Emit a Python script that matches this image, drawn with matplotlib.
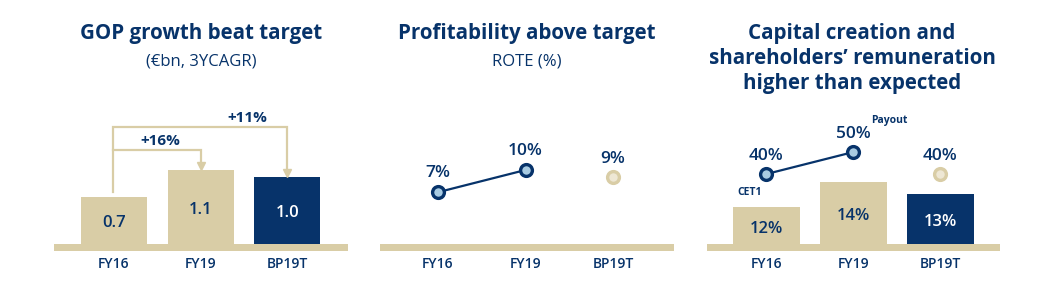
import matplotlib
matplotlib.use("Agg")
import matplotlib.pyplot as plt
import numpy as np

# ---------------- data ----------------
categories = ["FY16", "FY19", "BP19T"]
gop_values = [0.7, 1.1, 1.0]
gop_labels = ["0.7", "1.1", "1.0"]
gop_growth = ["+16%", "+11%"]
rote_values = [7, 10, 9]
rote_labels = ["7%", "10%", "9%"]
cet1_values = [12, 14, 13]
cet1_labels = ["12%", "14%", "13%"]
payout_values = [40, 50, 40]
payout_labels = ["40%", "50%", "40%"]

# ---------------- style ----------------
NAVY = "#07336A"
BEIGE = "#D9CDA6"
LBLUE = "#A8CBE2"
LBEIGE = "#EEE7D4"
FONT = ["Open Sans", "DejaVu Sans"]
plt.rcParams["font.family"] = FONT

W, H = 1043, 300
fig = plt.figure(figsize=(W / 100, H / 100), dpi=100)


def px_axes(x0, x1, ytop, ybot):
    ax = fig.add_axes([x0 / W, 1 - ybot / H, (x1 - x0) / W, (ybot - ytop) / H])
    ax.patch.set_alpha(0)
    for s in ax.spines.values():
        s.set_visible(False)
    ax.tick_params(length=0)
    ax.set_yticks([])
    return ax


def set_x(ax, x0, x1, c0, sp):
    ax.set_xlim(-(c0 - x0) / sp, (x1 - c0) / sp)


def set_y(ax, zero_val, zero_px, k, ytop=100, ybot=251):
    ax.set_ylim(zero_val - (ybot - zero_px) / k, zero_val + (zero_px - ytop) / k)


def xticks(ax):
    ax.set_xticks(range(len(categories)))
    ax.set_xticklabels(categories, color=NAVY, fontsize=10, fontweight="semibold")
    ax.tick_params(axis="x", pad=4)


def ftext(x, y, s, **kw):
    fig.text(x / W, 1 - y / H, s, ha="center", va="center", color=NAVY, **kw)


x = np.arange(len(categories))

# ---------------- panel 1 ----------------
ax1 = px_axes(54, 348, 100, 251)
set_x(ax1, 54, 348, 114, 86.7)
set_y(ax1, 0, 244, 67)
ax1.axhspan(ax1.get_ylim()[0], 0, color=BEIGE, lw=0, zorder=1)
cols = [BEIGE, BEIGE, NAVY]
tcols = [NAVY, NAVY, "white"]
ax1.bar(x, gop_values, width=0.76, color=cols, zorder=2)
for i, v in enumerate(gop_values):
    ax1.annotate(gop_labels[i], (i, v / 2), xytext=(0, -2), textcoords="offset points",
                 ha="center", va="center", color=tcols[i], fontsize=12, fontweight="semibold")
xticks(ax1)
# growth arrows
lvl_hi, lvl_lo = 1.746, 1.403
ax1.plot([-0.01, -0.01, 2.0, 2.0], [gop_values[0] + 0.08, lvl_hi, lvl_hi, gop_values[2] + 0.12],
         color=BEIGE, lw=1.6, zorder=3, solid_joinstyle="miter")
ax1.plot([-0.01, 1.0, 1.0], [lvl_lo, lvl_lo, gop_values[1] + 0.12],
         color=BEIGE, lw=1.6, zorder=3, solid_joinstyle="miter")
ax1.plot([1.0, 2.0], [gop_values[1] + 0.06, gop_values[2] + 0.06], ls="none",
         marker="v", ms=6, color=BEIGE, zorder=3)
ax1.text(0.53, 1.53, gop_growth[0], ha="center", va="center", color=NAVY,
         fontsize=11, fontweight="bold")
ax1.text(1.54, 1.88, gop_growth[1], ha="center", va="center", color=NAVY,
         fontsize=11, fontweight="bold")

ftext(201, 34, "GOP growth beat target", fontsize=14.8, fontweight="bold")
ftext(201, 62, "(€bn, 3YCAGR)", fontsize=12)

# ---------------- panel 2 ----------------
ax2 = px_axes(380, 674, 100, 251)
set_x(ax2, 380, 674, 438, 87.5)
set_y(ax2, 0, 244, 7.4)
ax2.axhspan(ax2.get_ylim()[0], 0, color=BEIGE, lw=0, zorder=1)
ax2.plot(x[:2], rote_values[:2], color=NAVY, lw=1.6, marker="o", ms=8.5, mew=2.4,
         mfc=LBLUE, mec=NAVY, zorder=3)
ax2.plot(x[2:], rote_values[2:], ls="none", marker="o", ms=8.5, mew=2.4,
         mfc=LBEIGE, mec=BEIGE, zorder=3)
for i, v in enumerate(rote_values):
    ax2.annotate(rote_labels[i], (i, v), xytext=(0, 13.5), textcoords="offset points",
                 ha="center", va="center", color=NAVY, fontsize=12.5, fontweight="semibold")
xticks(ax2)
ftext(527, 34, "Profitability above target", fontsize=14.8, fontweight="bold")
ftext(527, 62, "ROTE (%)", fontsize=12)

# ---------------- panel 3 ----------------
ax3 = px_axes(707, 1000, 100, 251)
set_x(ax3, 707, 1000, 766.5, 87.0)
base = 9
set_y(ax3, base, 244, 12.5)
ax3.axhspan(ax3.get_ylim()[0], base, color=BEIGE, lw=0, zorder=1)
ax3.bar(x, np.array(cet1_values) - base, bottom=base, width=0.76, color=cols, zorder=2)
for i, v in enumerate(cet1_values):
    ax3.annotate(cet1_labels[i], ((i), (v + base) / 2), xytext=(0, -2.5), textcoords="offset points",
                 ha="center", va="center", color=tcols[i], fontsize=12, fontweight="semibold")
xticks(ax3)
ax3.annotate("CET1", (0, cet1_values[0]), xytext=(-12, 10), textcoords="offset points",
             ha="center", va="center", color=NAVY, fontsize=7.5, fontweight="bold")

ax3b = ax3.twinx()
ax3b.patch.set_alpha(0)
for s in ax3b.spines.values():
    s.set_visible(False)
ax3b.set_yticks([])
ax3b.set_ylim(40 - (251 - 174) / 2.2, 40 + (174 - 100) / 2.2)
ax3b.plot(x[:2], payout_values[:2], color=NAVY, lw=1.6, marker="o", ms=8.5, mew=2.4,
          mfc=LBLUE, mec=NAVY, zorder=3)
ax3b.plot(x[2:], payout_values[2:], ls="none", marker="o", ms=8.5, mew=2.4,
          mfc=LBEIGE, mec=BEIGE, zorder=3)
for i, v in enumerate(payout_values):
    ax3b.annotate(payout_labels[i], (i, v), xytext=(0, 13), textcoords="offset points",
                  ha="center", va="center", color=NAVY, fontsize=12.5, fontweight="semibold")
ax3b.annotate("Payout", (1, payout_values[1]), xytext=(26, 23), textcoords="offset points",
              ha="center", va="center", color=NAVY, fontsize=7.5, fontweight="bold")

ftext(852, 34, "Capital creation and", fontsize=14.8, fontweight="bold")
ftext(852, 59, "shareholders\u2019 remuneration", fontsize=14.8, fontweight="bold")
ftext(852, 84, "higher than expected", fontsize=14.8, fontweight="bold")

fig.savefig("out.png", dpi=100)
